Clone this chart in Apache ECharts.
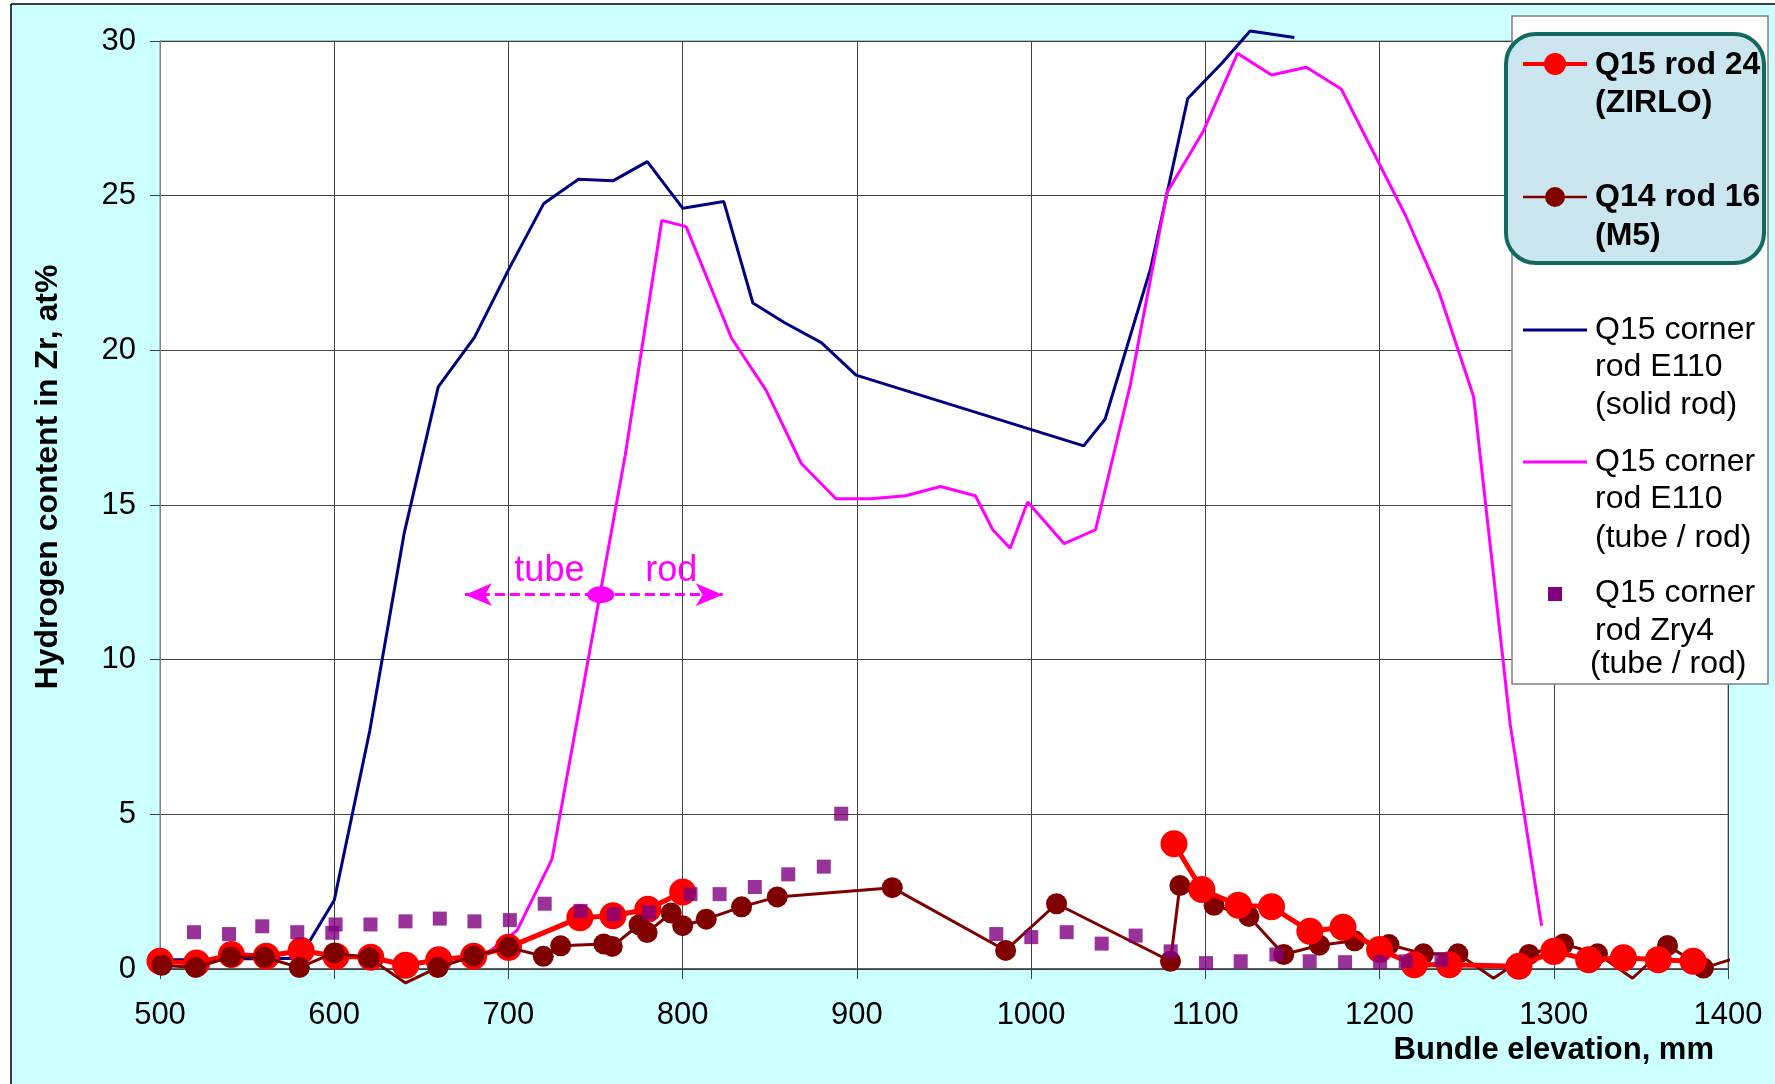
<!DOCTYPE html>
<html>
<head>
<meta charset="utf-8">
<script src="https://cdn.jsdelivr.net/npm/echarts/dist/echarts.min.js"></script>
<style>
html,body{margin:0;padding:0;background:#fff;}
#chart{width:1775px;height:1084px;}
</style>
</head>
<body>
<div id="chart"></div>
<script>
// ---- data ----
const xTicks = [500, 600, 700, 800, 900, 1000, 1100, 1200, 1300, 1400];
const yTicks = [0, 5, 10, 15, 20, 25, 30];

// Q15 corner rod E110 (solid rod)
const solidX = [500,520,540,560,580,600,620.4,640.2,659.7,680.5,700,720.3,740.2,760,779.7,800.1,823.6,840.3,858.3,879.6,899.5,1030.2,1042.5,1068.6,1089.9,1109.6,1125.7,1151.1];
const solidY = [0.3,0.3,0.33,0.33,0.35,2.22,7.7,14.1,18.82,20.42,22.6,24.75,25.53,25.48,26.1,24.59,24.81,21.53,20.9,20.25,19.2,16.91,17.78,22.65,28.14,29.29,30.32,30.11];

// Q15 corner rod E110 (tube / rod)
const tubeX = [685,705,725,767,788,802,828,848,868,888,908,928,948,968,978,988,998,1019,1037,1057,1078,1099,1118.5,1138,1158,1178,1215,1234,1254,1275,1293];
const tubeY = [0.4,1.25,3.55,16.6,24.2,24.0,20.4,18.7,16.35,15.2,15.2,15.3,15.6,15.3,14.2,13.6,15.1,13.75,14.2,18.9,25.1,27.1,29.6,28.9,29.15,28.45,24.35,21.9,18.5,7.9,1.4];

// Q15 rod 24 (ZIRLO), lower and upper parts
const zirloLowX = [500,521,541,561,581,601,621,641,660,680,700,741,760,780,800];
const zirloLowY = [0.25,0.19,0.47,0.41,0.6,0.41,0.38,0.12,0.3,0.41,0.7,1.66,1.72,1.93,2.49];
const zirloHighX = [1082,1098,1119,1138,1160,1179,1200,1220,1240,1280,1300,1320,1340,1360,1380];
const zirloHighY = [4.05,2.57,2.06,2.01,1.22,1.35,0.63,0.14,0.14,0.09,0.57,0.3,0.36,0.3,0.25];

// Q14 rod 16 (M5)
const m5X = [493,501,520.5,540.5,560,580,600,620,641,659.5,680,700,720,730,754.7,759.6,775,779.6,793.4,800,813.5,833.8,854.3,920.3,985.4,1014.6,1080,1085.4,1105,1125,1145,1165.5,1185.7,1205.4,1225.2,1245,1265.4,1285.8,1305.6,1325.1,1345.2,1365.3,1385.9,1408];
const m5Y = [-0.1,0.12,0.05,0.39,0.38,0.05,0.52,0.36,-0.45,0.05,0.42,0.7,0.41,0.75,0.81,0.73,1.43,1.18,1.81,1.4,1.61,2.01,2.33,2.63,0.6,2.11,0.25,2.7,2.06,1.7,0.47,0.77,0.91,0.79,0.49,0.49,-0.3,0.47,0.81,0.49,-0.3,0.76,0.03,0.42];

// Q15 corner rod Zry4 (tube / rod)
const zryX = [519.5,539.6,558.7,578.8,598.9,600.8,620.8,640.9,660.6,680.5,700.8,720.8,741.4,760.5,780.6,804.5,821.2,841.4,860.6,881,891,980,1000.1,1020.4,1040.5,1060,1080.1,1100.4,1120.3,1140.8,1159.9,1180.2,1200.3,1215,1235.5];
const zryY = [1.19,1.13,1.38,1.19,1.17,1.44,1.44,1.54,1.63,1.54,1.58,2.11,1.88,1.77,1.83,2.42,2.42,2.65,3.06,3.31,5.02,1.13,1.03,1.19,0.82,1.08,0.57,0.19,0.25,0.47,0.25,0.22,0.22,0.25,0.3];

// tube / rod annotation (data coordinates)
const arrowFrom = [675, 12.1];
const arrowTo = [823, 12.1];
const arrowMid = [753, 12.1];
const tubeLabelAt = [723.5, 12.85];
const rodLabelAt = [793.5, 12.85];

// ---- build ----
const xMin = xTicks[0], xMax = xTicks[xTicks.length - 1];
const yMin = yTicks[0], yMax = yTicks[yTicks.length - 1];
function pairs(xs, ys) { return xs.map((x, i) => [x, ys[i]]); }
function withHidden(xs, ys) {
  return xs.map((x, i) => {
    const y = ys[i];
    if (y < yMin || x < xMin || x > xMax) return { value: [x, y], symbol: 'none' };
    return [x, y];
  });
}

const FONT = '"Liberation Sans", Arial, sans-serif';
const chart = echarts.init(document.getElementById('chart'), null, { renderer: 'canvas' });

const lx = 1523, lx2 = 1587, lmx = 1555, tx = 1595;
const legendText = (text, x, y, bold) => ({
  type: 'text', z: 100,
  style: { text: text, x: x, y: y, fill: '#000', font: (bold ? 'bold ' : '') + '32px ' + FONT, align: 'left', verticalAlign: 'middle' }
});

const option = {
  animation: false,
  backgroundColor: '#CCFFFF',
  grid: { left: 160, top: 41, width: 1568, height: 928, show: true, backgroundColor: '#ffffff', borderColor: '#808080', borderWidth: 1 },
  xAxis: {
    type: 'value', min: xMin, max: xMax, interval: 100,
    axisLine: { show: true, onZero: false, lineStyle: { color: '#404040', width: 1.5 } },
    axisTick: { show: true, length: 10, lineStyle: { color: '#404040' } },
    axisLabel: { fontSize: 31, color: '#000', margin: 31, fontFamily: FONT, formatter: v => String(v) },
    splitLine: { show: true, lineStyle: { color: '#404040', width: 1 } }
  },
  yAxis: {
    type: 'value', min: yMin, max: yMax, interval: 5,
    axisLine: { show: true, lineStyle: { color: '#808080', width: 1 } },
    axisTick: { show: true, length: 10, lineStyle: { color: '#404040' } },
    axisLabel: { fontSize: 31, color: '#000', margin: 24, fontFamily: FONT, formatter: v => String(v) },
    splitLine: { show: true, lineStyle: { color: '#404040', width: 1 } }
  },
  series: [
    {
      name: 'Q15 corner rod E110 (solid rod)', type: 'line', data: pairs(solidX, solidY),
      symbol: 'none', clip: false, z: 2,
      lineStyle: { color: '#000080', width: 3 }
    },
    {
      name: 'Q15 corner rod E110 (tube / rod)', type: 'line', data: pairs(tubeX, tubeY),
      symbol: 'none', clip: false, z: 2,
      lineStyle: { color: '#FF00FF', width: 3 },
      markLine: {
        silent: true, symbol: ['arrow', 'arrow'], symbolSize: [17, 27],
        label: { show: false },
        lineStyle: { color: '#FF00FF', width: 3, type: [10, 5] },
        data: [[{ coord: arrowFrom }, { coord: arrowTo }]]
      },
      markPoint: {
        silent: true,
        data: [
          { coord: arrowMid, symbol: 'circle', symbolSize: [27, 17], itemStyle: { color: '#FF00FF' }, label: { show: false } },
          { coord: tubeLabelAt, symbol: 'circle', symbolSize: 1, itemStyle: { color: 'rgba(0,0,0,0)' },
            label: { show: true, position: 'inside', formatter: 'tube', fontSize: 36, color: '#FF00FF', fontFamily: FONT } },
          { coord: rodLabelAt, symbol: 'circle', symbolSize: 1, itemStyle: { color: 'rgba(0,0,0,0)' },
            label: { show: true, position: 'inside', formatter: 'rod', fontSize: 36, color: '#FF00FF', fontFamily: FONT } }
        ]
      }
    },
    {
      name: 'Q15 rod 24 (ZIRLO)', type: 'line', data: pairs(zirloLowX, zirloLowY),
      symbol: 'circle', symbolSize: 27, clip: false, z: 3,
      itemStyle: { color: '#FF0000' }, lineStyle: { color: '#FF0000', width: 5 }
    },
    {
      name: 'Q14 rod 16 (M5)', type: 'line', data: withHidden(m5X, m5Y),
      symbol: 'circle', symbolSize: 21, clip: false, z: 4,
      itemStyle: { color: '#800000' }, lineStyle: { color: '#800000', width: 3 }
    },
    {
      name: 'Q15 rod 24 (ZIRLO) upper', type: 'line', data: pairs(zirloHighX, zirloHighY),
      symbol: 'circle', symbolSize: 27, clip: false, z: 5,
      itemStyle: { color: '#FF0000' }, lineStyle: { color: '#FF0000', width: 5 }
    },
    {
      name: 'Q15 corner rod Zry4 (tube / rod)', type: 'scatter', data: pairs(zryX, zryY),
      symbol: 'rect', symbolSize: 14, clip: false, z: 6,
      itemStyle: { color: '#800080' }
    }
  ],
  graphic: [
    // white page margin + chart frame
    { type: 'rect', shape: { x: 0, y: 0, width: 11, height: 1084 }, style: { fill: '#fff' }, z: 90, silent: true },
    { type: 'rect', shape: { x: 0, y: 0, width: 1775, height: 4 }, style: { fill: '#fff' }, z: 90, silent: true },
    { type: 'line', shape: { x1: 11, y1: 4, x2: 11, y2: 1084 }, style: { stroke: '#000', lineWidth: 1.5 }, z: 91, silent: true },
    { type: 'line', shape: { x1: 11, y1: 4, x2: 1775, y2: 4 }, style: { stroke: '#000', lineWidth: 1.5 }, z: 91, silent: true },
    // axis titles
    { type: 'text', z: 100, style: { text: 'Bundle elevation, mm', x: 1714, y: 1050, fill: '#000', font: 'bold 31px ' + FONT, align: 'right', verticalAlign: 'middle' } },
    { type: 'text', z: 100, x: 48, y: 477, rotation: Math.PI / 2,
      style: { text: 'Hydrogen content in Zr, at%', x: 0, y: 0, fill: '#000', font: 'bold 32px ' + FONT, align: 'center', verticalAlign: 'middle' } },
    // legend frame
    { type: 'rect', z: 95, shape: { x: 1512, y: 16, width: 256, height: 668 }, style: { fill: '#fff', stroke: '#808080', lineWidth: 1.5 } },
    { type: 'rect', z: 96, shape: { x: 1506, y: 34, width: 258, height: 229, r: 30 }, style: { fill: '#cbe6ee', stroke: '#13695d', lineWidth: 4 } },
    // entry 1
    { type: 'line', z: 97, shape: { x1: lx, y1: 64, x2: lx2, y2: 64 }, style: { stroke: '#FF0000', lineWidth: 4 } },
    { type: 'circle', z: 98, shape: { cx: lmx, cy: 64, r: 11 }, style: { fill: '#FF0000' } },
    legendText('Q15 rod 24', tx, 65, true),
    legendText('(ZIRLO)', tx, 103, true),
    // entry 2
    { type: 'line', z: 97, shape: { x1: lx, y1: 197, x2: lx2, y2: 197 }, style: { stroke: '#800000', lineWidth: 2.5 } },
    { type: 'circle', z: 98, shape: { cx: lmx, cy: 197, r: 10 }, style: { fill: '#800000' } },
    legendText('Q14 rod 16', tx, 197, true),
    legendText('(M5)', tx, 236, true),
    // entry 3
    { type: 'line', z: 97, shape: { x1: lx, y1: 330, x2: lx2, y2: 330 }, style: { stroke: '#000080', lineWidth: 3 } },
    legendText('Q15 corner', tx, 330, false),
    legendText('rod E110', tx, 367, false),
    legendText('(solid rod)', tx, 405, false),
    // entry 4
    { type: 'line', z: 97, shape: { x1: lx, y1: 462, x2: lx2, y2: 462 }, style: { stroke: '#FF00FF', lineWidth: 3 } },
    legendText('Q15 corner', tx, 462, false),
    legendText('rod E110', tx, 499, false),
    legendText('(tube / rod)', tx, 538, false),
    // entry 5
    { type: 'rect', z: 97, shape: { x: lmx - 7, y: 594 - 7, width: 14, height: 14 }, style: { fill: '#800080' } },
    legendText('Q15 corner', tx, 593, false),
    legendText('rod Zry4', tx, 631, false),
    legendText('(tube / rod)', 1590, 664, false)
  ]
};
chart.setOption(option);
</script>
</body>
</html>
